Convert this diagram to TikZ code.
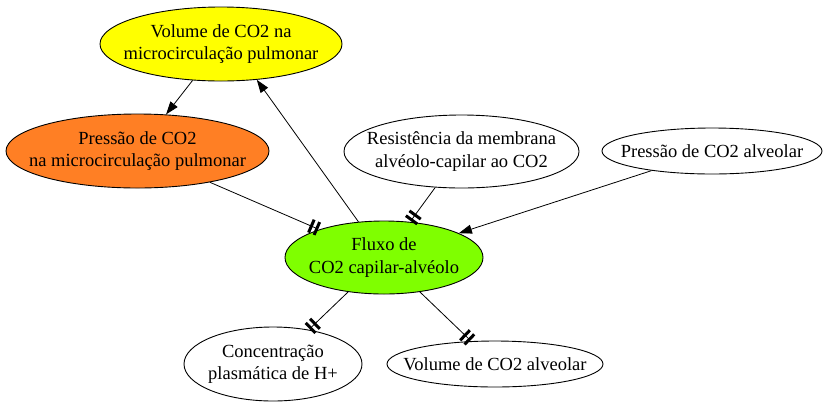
\documentclass[tikz,border=0pt]{standalone}
\usepackage{fontspec}
\setmainfont{Liberation Serif}
\usetikzlibrary{shapes.geometric,arrows.meta}
\definecolor{cyellow}{HTML}{FFFF00}
\definecolor{corange}{HTML}{FF7F24}
\definecolor{cgreen}{HTML}{7FFF00}
\tikzset{
  nodebox/.style={ellipse, draw=black, line width=0.9pt, inner xsep=-60pt, inner ysep=-8pt, align=center,
    font=\fontsize{18.5}{22.5}\selectfont},
  edge/.style={line width=0.8pt, draw=black},
  arr/.style={edge, -{Triangle[length=13pt,width=9pt]}},
  teetee/.style={edge, -{Bar[width=14pt,line width=3pt,sep=3pt]Bar[width=14pt,line width=3pt,sep=1pt]}},
}
\begin{document}
\begin{tikzpicture}[x=1pt,y=-1pt]
\useasboundingbox (0,0) rectangle (826,408);
\node[nodebox, fill=cyellow, minimum width=242pt, minimum height=74pt] (vol) at (221,44)
  {Volume de CO2 na\\microcirculação pulmonar};
\node[nodebox, fill=corange, minimum width=263pt, minimum height=74pt] (pres) at (137.5,151)
  {Pressão de CO2\\na microcirculação pulmonar};
\node[nodebox, fill=white, minimum width=235pt, minimum height=73pt] (res) at (461.5,151.5)
  {Resistência da membrana\\alvéolo-capilar ao CO2};
\node[nodebox, fill=white, minimum width=220pt, minimum height=46pt] (palv) at (712,151)
  {Pressão de CO2 alveolar};
\node[nodebox, fill=cgreen, minimum width=198pt, minimum height=73pt] (flux) at (384,257.5)
  {Fluxo de\\CO2 capilar-alvéolo};
\node[nodebox, fill=white, minimum width=178pt, minimum height=74pt] (conc) at (273,364)
  {Concentração\\plasmática de H+};
\node[nodebox, fill=white, minimum width=216pt, minimum height=46pt] (valv) at (495,364)
  {Volume de CO2 alveolar};
\draw[arr] (vol) -- (pres);
\draw[arr] (flux) -- (vol.-45);
\draw[teetee] (pres) -- (flux);
\draw[teetee] (res) -- (flux);
\draw[arr] (palv) -- (flux);
\draw[teetee] (flux) -- (conc);
\draw[teetee] (flux) -- (valv);
\end{tikzpicture}
\end{document}
